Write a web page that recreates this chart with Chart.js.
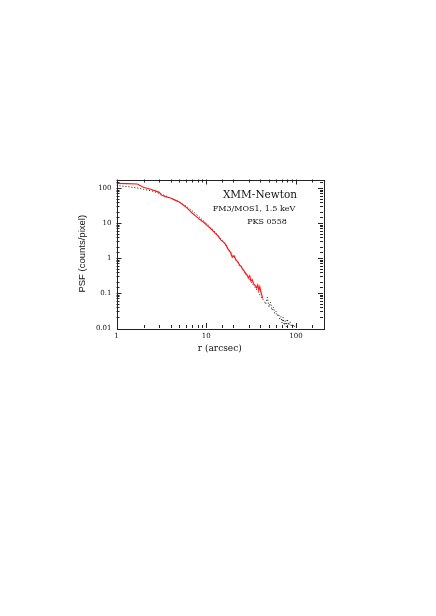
<!DOCTYPE html>
<html>
<head>
<meta charset="utf-8">
<script src="https://cdn.jsdelivr.net/npm/chart.js@4/dist/chart.umd.min.js"></script>
<style>
  html, body { margin: 0; padding: 0; background: #fff; }
  canvas { display: block; }
</style>
</head>
<body>
<canvas id="psf" width="436" height="616"></canvas>
<script>
// measured PSF (red, solid)
const rMeasured = [1, 1.3, 1.7, 2.0, 2.4, 2.8, 3.0, 3.2, 3.6, 4.0, 4.5, 5.0, 5.5, 6.0, 6.5, 7.0, 7.7, 8.5, 9.5,
  10.5, 11.5, 12.5, 13.5, 14.5, 15.5, 16.5, 17.5, 18.5, 19.5, 20.5, 21.5, 22.5, 23.5, 24.5, 25.5, 26.5,
  27.5, 28.5, 29.5, 30.5, 31.5, 32.5, 33.5, 34.5, 35.5, 36.5, 37.5, 38.5, 39.5, 40.5, 41.5, 42.5];
const psfMeasured = [136, 134, 130, 105, 92, 80, 75, 62, 56, 52, 45, 40, 33, 28, 23, 19, 15.5, 12.5, 10.2,
  8, 6.5, 5.2, 4.3, 3.3, 2.9, 2.4, 1.8, 1.5, 1.05, 1.15, 0.85, 0.78, 0.62, 0.58, 0.47, 0.42,
  0.36, 0.33, 0.27, 0.31, 0.22, 0.24, 0.19, 0.17, 0.16, 0.14, 0.17, 0.12, 0.15, 0.11, 0.09, 0.07];

// model PSF (black, dotted)
const rModel = [1, 1.2, 1.4, 1.7, 2, 2.5, 3, 3.5, 4, 5, 6, 7, 8, 9, 10, 12, 14, 16, 18, 20, 22, 24, 26, 28,
  30, 32, 34, 36, 38, 40, 42, 44, 46, 48, 50, 52, 54, 56, 58, 60, 62, 64, 66, 68, 70, 72, 74, 76, 78, 80,
  83, 86, 89, 92, 95, 98, 101, 104];
const psfModel = [118, 112, 108, 100, 92, 82, 70, 60, 52, 40, 30, 22, 16.5, 12.5, 10, 6.3, 4.0, 2.6, 1.7, 1.15,
  0.85, 0.6, 0.45, 0.33, 0.26, 0.2, 0.16, 0.13, 0.11, 0.085, 0.07, 0.06, 0.048, 0.075, 0.04, 0.055, 0.032,
  0.04, 0.026, 0.03, 0.022, 0.025, 0.018, 0.021, 0.014, 0.02, 0.012, 0.016, 0.011, 0.018, 0.012, 0.015,
  0.011, 0.013, 0.0105, 0.012, 0.011, 0.0105];

const xLabels = [1, 10, 100];
const yLabels = [0.01, 0.1, 1, 10, 100];
const notes = ["XMM-Newton", "FM3/MOS1, 1.5 keV", "PKS 0558"];

const toPoints = (xs, ys) => xs.map((x, i) => ({ x: x, y: ys[i] }));
const isDecade = v => Math.abs(Math.log10(v) - Math.round(Math.log10(v))) < 1e-6;
const fmt = v => v >= 1 ? String(Math.round(v)) : v.toFixed(-Math.round(Math.log10(v)));

// frame + inward ticks on all four sides, plus the text
const framePlugin = {
  id: "frame",
  afterDraw(chart) {
    const { ctx, chartArea: a, scales } = chart;
    ctx.save();
    ctx.strokeStyle = "#222";
    ctx.lineWidth = 1;
    ctx.beginPath();
    scales.x.ticks.forEach(t => {
      const px = Math.round(scales.x.getPixelForValue(t.value)) + 0.5;
      if (px < a.left || px > a.right) return;
      const len = isDecade(t.value) ? 5 : 3;
      ctx.moveTo(px, a.bottom); ctx.lineTo(px, a.bottom - len);
      ctx.moveTo(px, a.top); ctx.lineTo(px, a.top + len);
    });
    scales.y.ticks.forEach(t => {
      const py = Math.round(scales.y.getPixelForValue(t.value)) + 0.5;
      if (py < a.top || py > a.bottom) return;
      const len = isDecade(t.value) ? 5 : 3;
      ctx.moveTo(a.left, py); ctx.lineTo(a.left + len, py);
      ctx.moveTo(a.right, py); ctx.lineTo(a.right - len, py);
    });
    ctx.stroke();
    ctx.strokeRect(Math.round(a.left) + 0.5, Math.round(a.top) + 0.5,
      Math.round(a.right - a.left), Math.round(a.bottom - a.top));

    ctx.fillStyle = "#111";
    ctx.textAlign = "center";
    ctx.textBaseline = "middle";
    ctx.font = "10.5px 'DejaVu Serif'";
    ctx.fillText(notes[0], 260, 195);
    ctx.font = "8px 'DejaVu Serif'";
    ctx.fillText(notes[1], 254, 208.5);
    ctx.fillText(notes[2], 267, 222);

    ctx.font = "9px 'DejaVu Serif'";
    ctx.fillText("r (arcsec)", (a.left + a.right) / 2, 349);

    ctx.font = "9.5px 'Liberation Sans'";
    ctx.translate(82, (a.top + a.bottom) / 2);
    ctx.rotate(-Math.PI / 2);
    ctx.fillText("PSF (counts/pixel)", 0, 0);
    ctx.restore();
  }
};

new Chart(document.getElementById("psf"), {
  type: "line",
  data: {
    datasets: [
      {
        label: "measured",
        data: toPoints(rMeasured, psfMeasured),
        borderColor: "#ff1a1a",
        borderWidth: 1.2,
        pointRadius: 0,
        tension: 0
      },
      {
        label: "model",
        data: toPoints(rModel, psfModel),
        borderColor: "#111",
        borderWidth: 1,
        borderDash: [1, 2],
        pointRadius: 0,
        tension: 0
      }
    ]
  },
  options: {
    responsive: false,
    animation: false,
    devicePixelRatio: 1,
    layout: { padding: { left: 76.5, right: 113, top: 179.5, bottom: 268 } },
    plugins: { legend: { display: false }, tooltip: { enabled: false } },
    scales: {
      x: {
        type: "logarithmic",
        min: 1,
        max: 200,
        grid: { display: false, drawTicks: false },
        border: { display: false },
        afterFit: s => { s.height = 20; },
        ticks: {
          autoSkip: false,
          maxRotation: 0,
          padding: 4,
          color: "#111",
          font: { family: "'DejaVu Serif'", size: 7 },
          callback: v => xLabels.some(l => Math.abs(l - v) < 1e-9) ? fmt(v) : ""
        }
      },
      y: {
        type: "logarithmic",
        min: 0.01,
        max: 175,
        grid: { display: false, drawTicks: false },
        border: { display: false },
        afterFit: s => { s.width = 40; },
        ticks: {
          autoSkip: false,
          padding: 5,
          color: "#111",
          font: { family: "'DejaVu Serif'", size: 7 },
          callback: v => yLabels.some(l => Math.abs(l - v) / l < 1e-6) ? fmt(v) : ""
        }
      }
    }
  },
  plugins: [framePlugin]
});
</script>
</body>
</html>
